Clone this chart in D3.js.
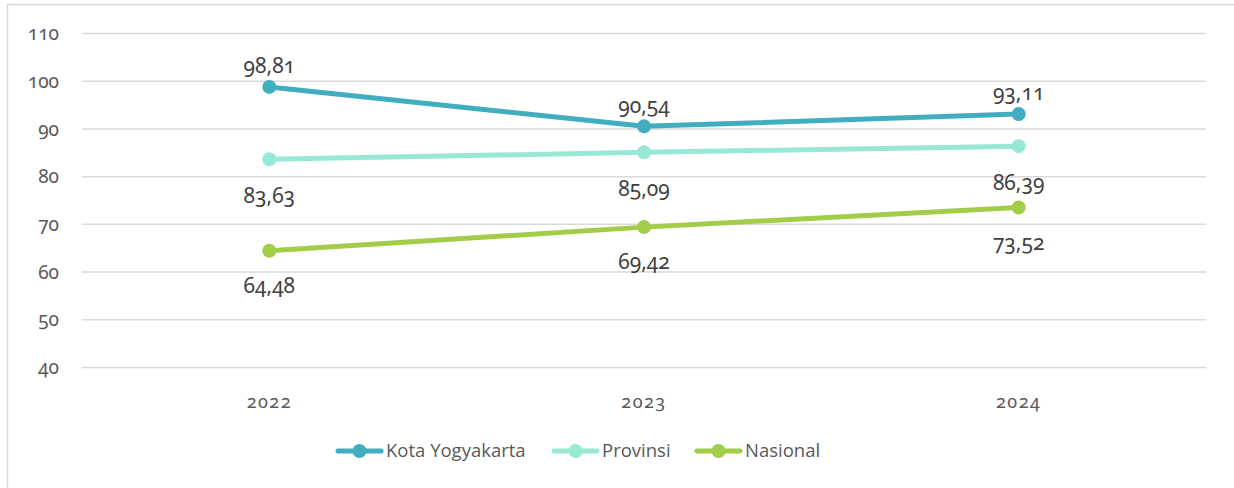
<!DOCTYPE html>
<html><head><meta charset="utf-8">
<script src="https://cdn.jsdelivr.net/npm/d3@7"></script>
<style>
body{margin:0;background:#fff;}
svg{display:block;}
.num{font-family:"Noto Sans","Open Sans",sans-serif;font-variant-numeric:oldstyle-nums;font-feature-settings:"onum" 1;}
</style></head><body>
<svg id="c" width="1234" height="488"></svg>
<script>
const years = ["2022","2023","2024"];
const kota = [98.81, 90.54, 93.11];
const provinsi = [83.63, 85.09, 86.39];
const nasional = [64.48, 69.42, 73.52];
const yTicks = [40,50,60,70,80,90,100,110];
const seriesNames = ["Kota Yogyakarta","Provinsi","Nasional"];
const seriesColors = ["#41AEBF","#98E8D6","#A2CD48"];

const svg = d3.select("#c");
// outer frame
svg.append("path").attr("d","M7.5,488 V4.5 H1234").attr("fill","none").attr("stroke","#d9d9d9").attr("stroke-width",1.5);

const x = d3.scaleBand().domain(years).range([82,1206]);
const y = d3.scaleLinear().domain([40,110]).range([367.5,33.5]);

// gridlines
svg.append("g").selectAll("line").data(yTicks).join("line")
  .attr("x1",82).attr("x2",1206).attr("y1",d=>y(d)).attr("y2",d=>y(d))
  .attr("stroke","#d9d9d9").attr("stroke-width",1.5);

// y labels
svg.append("g").selectAll("text").data(yTicks).join("text")
  .attr("class","num").attr("x",59).attr("y",d=>y(d)).attr("dy","0.35em")
  .attr("text-anchor","end").attr("font-size",19).attr("fill","#595959").text(d=>d);

// x labels
svg.append("g").selectAll("text").data(years).join("text")
  .attr("class","num").attr("x",d=>x(d)+x.bandwidth()/2).attr("y",402).attr("dy","0.35em")
  .attr("text-anchor","middle").attr("font-size",18).attr("fill","#595959").attr("letter-spacing",1.5).text(d=>d);

const series = [kota, provinsi, nasional];
const cx = d => x(d)+x.bandwidth()/2;
const line = d3.line().x((d,i)=>cx(years[i])).y(d=>y(d));
const offsets = [-21, 36, 35];
series.forEach((vals,si)=>{
  const g = svg.append("g");
  g.append("path").datum(vals).attr("d",line).attr("fill","none")
    .attr("stroke",seriesColors[si]).attr("stroke-width",5).attr("stroke-linecap","round");
  g.selectAll("circle").data(vals).join("circle")
    .attr("cx",(d,i)=>cx(years[i])).attr("cy",d=>y(d)).attr("r",7).attr("fill",seriesColors[si]);
  g.selectAll("text").data(vals).join("text").attr("class","num")
    .attr("x",(d,i)=>cx(years[i])).attr("y",d=>y(d)+offsets[si]).attr("dy","0.35em")
    .attr("text-anchor","middle").attr("font-size",21).attr("fill","#404040")
    .text(d=>d3.format(".2f")(d).replace(".",","));
});

// legend
const legX = [336, 552, 695];
const lg = svg.append("g");
seriesNames.forEach((n,i)=>{
  const gx = legX[i];
  lg.append("line").attr("x1",gx+2).attr("x2",gx+45).attr("y1",451).attr("y2",451)
    .attr("stroke",seriesColors[i]).attr("stroke-width",5).attr("stroke-linecap","round");
  lg.append("circle").attr("cx",gx+23.5).attr("cy",451).attr("r",7).attr("fill",seriesColors[i]);
  lg.append("text").attr("x",gx+50).attr("y",451).attr("dy","0.35em")
    .attr("font-family","'Open Sans',sans-serif").attr("font-size",18.5).attr("fill","#595959").text(n);
});
</script></body></html>
